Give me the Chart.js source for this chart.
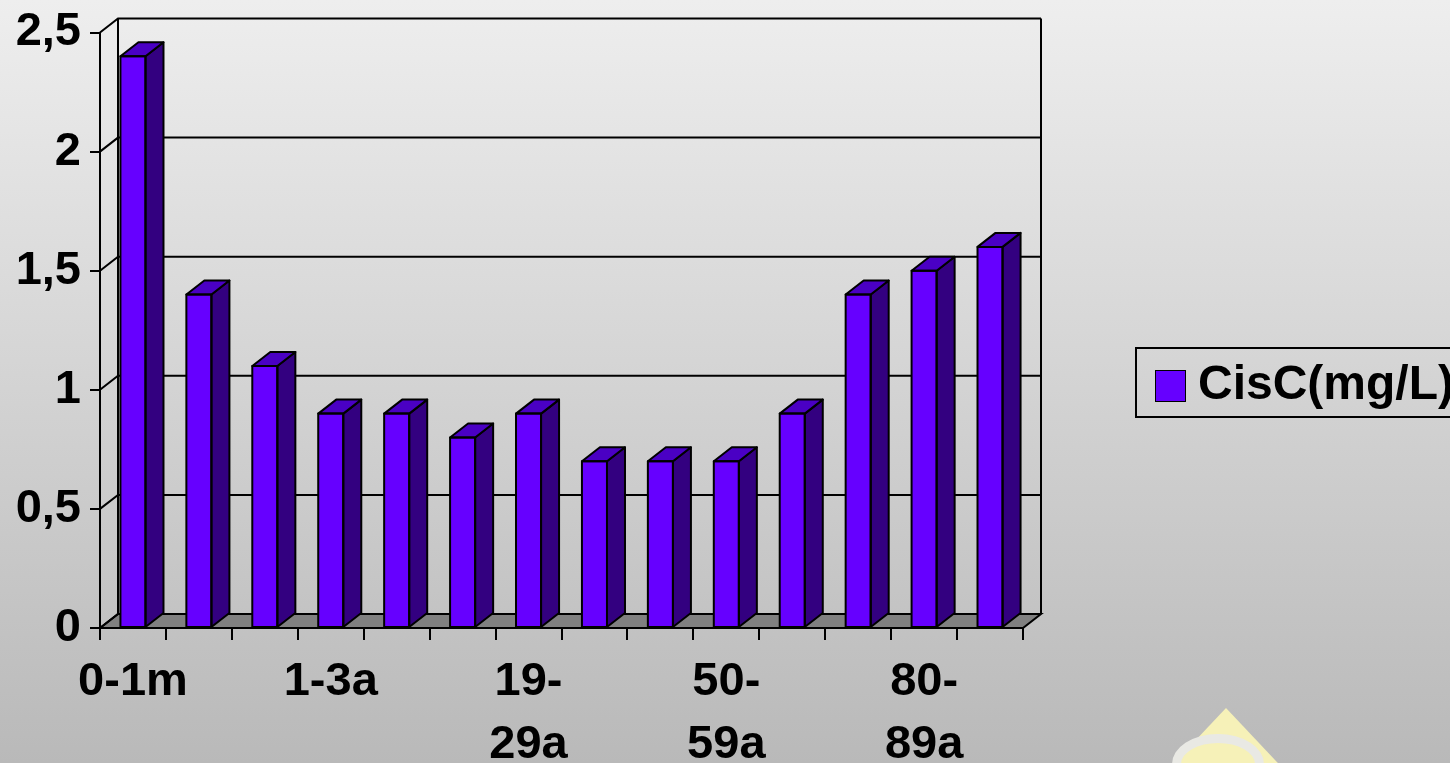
<!DOCTYPE html>
<html>
<head>
<meta charset="utf-8">
<script src="https://cdn.jsdelivr.net/npm/chart.js"></script>
<style>
  html, body {
    margin: 0;
    width: 1450px;
    height: 763px;
    overflow: hidden;
    background: linear-gradient(#eeeeee, #b9b9b9);
    font-family: "Liberation Sans", Arial, sans-serif;
  }
  #wrap { position: relative; width: 1450px; height: 763px; overflow: hidden; }
  #chart { position: absolute; left: 0; top: 0; }
  #legend {
    position: absolute;
    left: 1135px;
    top: 347px;
    height: 67px;
    border: 2px solid #000;
    white-space: nowrap;
    font-weight: bold;
    font-size: 48px;
    line-height: 67px;
    padding: 0 14px 0 18px;
  }
  #legend .sw {
    display: inline-block;
    width: 29px;
    height: 30px;
    background: #6600ff;
    border: 1px solid #000;
    vertical-align: -3px;
    margin-right: 12px;
  }
  #logo {
    position: absolute;
    left: 1160px;
    top: 708px;
    width: 132px;
    height: 70px;
    background: #f6f1b8;
    clip-path: polygon(50% 0, 100% 100%, 0 100%);
  }
  #ring {
    position: absolute;
    left: 1172px;
    top: 734px;
    width: 92px;
    height: 60px;
    border-radius: 50%;
    border: 9px solid #e9e9e4;
    box-sizing: border-box;
  }
</style>
</head>
<body>
<div id="wrap">
  <canvas id="chart" width="1450" height="763"></canvas>
  <div id="logo"></div>
  <div id="ring"></div>
  <div id="legend"><span class="sw"></span>CisC(mg/L)</div>
</div>
<script>
const categories = [
  "0-1m", "1-6m", "6-12m", "1-3a", "4-9a", "10-18a", "19-29a",
  "30-39a", "40-49a", "50-59a", "60-69a", "70-79a", "80-89a", "90+a"
];
const cisC = [2.4, 1.4, 1.1, 0.9, 0.9, 0.8, 0.9, 0.7, 0.7, 0.7, 0.9, 1.4, 1.5, 1.6];
const yTicks = [0, 0.5, 1, 1.5, 2, 2.5];
const seriesName = "CisC(mg/L)";

const DX = 18, DY = -14;
const FONT = "'Liberation Sans', Arial, sans-serif";

// walls, floor and gridlines behind the bars, 3D faces on top
const wallPlugin = {
  id: "walls",
  beforeDatasetsDraw(chart) {
    const { ctx, chartArea: a, scales } = chart;
    const y = scales.y;
    ctx.save();
    ctx.strokeStyle = "#000";
    ctx.lineWidth = 2;
    // floor
    ctx.beginPath();
    ctx.moveTo(a.left, a.bottom);
    ctx.lineTo(a.left + DX, a.bottom + DY);
    ctx.lineTo(a.right + DX, a.bottom + DY);
    ctx.lineTo(a.right, a.bottom);
    ctx.closePath();
    ctx.fillStyle = "#808080";
    ctx.fill();
    ctx.stroke();
    // gridlines on side and back wall
    yTicks.forEach((v) => {
      const py = y.getPixelForValue(v);
      ctx.beginPath();
      ctx.moveTo(a.left, py);
      ctx.lineTo(a.left + DX, py + DY);
      ctx.lineTo(a.right + DX, py + DY);
      ctx.stroke();
    });
    // wall edges
    ctx.beginPath();
    ctx.moveTo(a.left + DX, a.top + DY);
    ctx.lineTo(a.left + DX, a.bottom + DY);
    ctx.moveTo(a.right + DX, a.top + DY);
    ctx.lineTo(a.right + DX, a.bottom + DY);
    ctx.stroke();
    ctx.restore();
  },
  afterDatasetsDraw(chart) {
    const { ctx } = chart;
    const meta = chart.getDatasetMeta(0);
    ctx.save();
    ctx.strokeStyle = "#000";
    ctx.lineWidth = 2;
    ctx.lineJoin = "round";
    meta.data.forEach((bar) => {
      const { x, y, base, width } = bar.getProps(["x", "y", "base", "width"], true);
      const L = x - width / 2, R = x + width / 2;
      // side face
      ctx.beginPath();
      ctx.moveTo(R, y);
      ctx.lineTo(R + DX, y + DY);
      ctx.lineTo(R + DX, base + DY);
      ctx.lineTo(R, base);
      ctx.closePath();
      ctx.fillStyle = "#330080";
      ctx.fill();
      ctx.stroke();
      // top face
      ctx.beginPath();
      ctx.moveTo(L, y);
      ctx.lineTo(L + DX, y + DY);
      ctx.lineTo(R + DX, y + DY);
      ctx.lineTo(R, y);
      ctx.closePath();
      ctx.fillStyle = "#4a00c4";
      ctx.fill();
      ctx.stroke();
      // front outline
      ctx.strokeRect(L, y, width, base - y);
    });
    ctx.restore();
  },
};

new Chart(document.getElementById("chart"), {
  type: "bar",
  data: {
    labels: categories,
    datasets: [
      {
        label: seriesName,
        data: cisC,
        backgroundColor: "#6600ff",
        borderWidth: 0,
        categoryPercentage: 1,
        barPercentage: 0.38,
      },
    ],
  },
  plugins: [wallPlugin],
  options: {
    responsive: false,
    animation: false,
    layout: { padding: { left: 0, top: 28, right: 427, bottom: 0 } },
    plugins: {
      legend: { display: false },
      tooltip: { enabled: false },
    },
    scales: {
      x: {
        offset: true,
        grid: {
          offset: true,
          drawOnChartArea: false,
          color: "#000",
          lineWidth: 2,
          tickLength: 12,
        },
        border: { color: "#000", width: 2 },
        ticks: {
          autoSkip: false,
          maxRotation: 0,
          color: "#000",
          padding: 11,
          font: { family: FONT, size: 47, weight: "bold", lineHeight: 1.33 },
          callback: (v, i) => {
            if (i % 3 !== 0) return "";
            const s = categories[i];
            if (s.length <= 4) return s;
            const k = s.indexOf("-") + 1;
            return [s.slice(0, k), s.slice(k)];
          },
        },
        afterFit: (s) => { s.height = 135; },
      },
      y: {
        min: 0,
        max: 2.5,
        grid: {
          drawOnChartArea: false,
          color: "#000",
          lineWidth: 2,
          tickLength: 10,
        },
        border: { color: "#000", width: 2 },
        ticks: {
          stepSize: 0.5,
          color: "#000",
          padding: 9,
          font: { family: FONT, size: 47, weight: "bold", lineHeight: 1 },
          callback: (v) => String(v).replace(".", ","),
        },
        afterFit: (s) => { s.width = 100; },
      },
    },
  },
});
</script>
</body>
</html>
